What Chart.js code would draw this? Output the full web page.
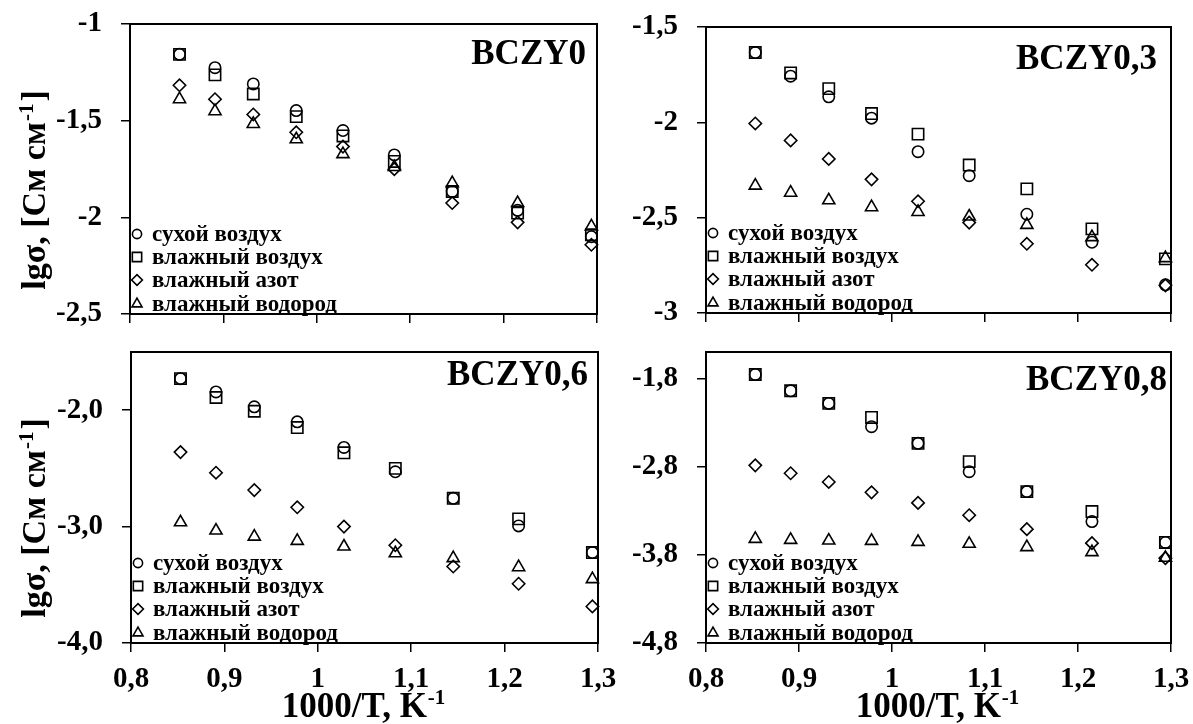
<!DOCTYPE html>
<html>
<head>
<meta charset="utf-8">
<script src="https://cdn.jsdelivr.net/npm/chart.js@4.4.1/dist/chart.umd.min.js"></script>
<style>
  html, body { margin: 0; padding: 0; background: #fff; }
  body { width: 1193px; height: 724px; position: relative; overflow: hidden; }
  canvas { position: absolute; }
</style>
</head>
<body>
<canvas id="p2" width="593" height="340" style="left:600px;top:0;width:593px;height:340px"></canvas>
<canvas id="p4" width="593" height="384" style="left:600px;top:340px;width:593px;height:384px"></canvas>
<canvas id="p1" width="620" height="340" style="left:0;top:0;width:620px;height:340px"></canvas>
<canvas id="p3" width="620" height="384" style="left:0;top:340px;width:620px;height:384px"></canvas>
<script>
// --- Data ---
const invT = [0.853, 0.891, 0.932, 0.978, 1.028, 1.083, 1.145, 1.215, 1.294];
const seriesNames = ['сухой воздух', 'влажный воздух', 'влажный азот', 'влажный водород'];
const panelNames = ['BCZY0', 'BCZY0,3', 'BCZY0,6', 'BCZY0,8'];

const xTicks = [0.8, 0.9, 1.0, 1.1, 1.2, 1.3];
const xTickLabels = ['0,8', '0,9', '1', '1,1', '1,2', '1,3'];

// BCZY0
const bczy0Dry   = [-1.157, -1.226, -1.31, -1.448, -1.551, -1.677, -1.866, -1.964, -2.10];
const bczy0WetAir= [-1.157, -1.263, -1.362, -1.479, -1.579, -1.711, -1.866, -1.978, -2.09];
const bczy0WetN2 = [-1.317, -1.389, -1.468, -1.56, -1.634, -1.751, -1.926, -2.026, -2.142];
const bczy0WetH2 = [-1.389, -1.451, -1.517, -1.596, -1.673, -1.74, -1.823, -1.926, -2.047];
const bczy0YTicks = [-1, -1.5, -2, -2.5];
const bczy0YLabels = ['-1', '-1,5', '-2', '-2,5'];

// BCZY0,3
const bczy03Dry   = [-1.634, -1.758, -1.866, -1.978, -2.154, -2.28, -2.482, -2.629, -2.852];
const bczy03WetAir= [-1.634, -1.741, -1.823, -1.954, -2.062, -2.224, -2.349, -2.559, -2.716];
const bczy03WetN2 = [-2.006, -2.095, -2.192, -2.299, -2.414, -2.526, -2.637, -2.747, -2.855];
const bczy03WetH2 = [-2.332, -2.369, -2.409, -2.445, -2.47, -2.494, -2.538, -2.602, -2.712];
const bczy03YTicks = [-1.5, -2, -2.5, -3];
const bczy03YLabels = ['-1,5', '-2', '-2,5', '-3'];

// BCZY0,6
const bczy06Dry   = [-1.729, -1.843, -1.971, -2.10, -2.32, -2.529, -2.757, -2.994, -3.223];
const bczy06WetAir= [-1.729, -1.891, -2.009, -2.149, -2.366, -2.50, -2.757, -2.934, -3.223];
const bczy06WetN2 = [-2.36, -2.537, -2.686, -2.834, -3.0, -3.16, -3.343, -3.491, -3.686];
const bczy06WetH2 = [-2.963, -3.034, -3.086, -3.123, -3.171, -3.229, -3.271, -3.349, -3.451];
const bczy06YTicks = [-2, -3, -4];
const bczy06YLabels = ['-2,0', '-3,0', '-4,0'];

// BCZY0,8
const bczy08Dry   = [-1.755, -1.94, -2.083, -2.347, -2.536, -2.857, -3.083, -3.423, -3.66];
const bczy08WetAir= [-1.755, -1.94, -2.083, -2.242, -2.536, -2.743, -3.083, -3.309, -3.66];
const bczy08WetN2 = [-2.785, -2.875, -2.974, -3.091, -3.211, -3.351, -3.509, -3.668, -3.838];
const bczy08WetH2 = [-3.619, -3.63, -3.638, -3.642, -3.653, -3.675, -3.713, -3.77, -3.834];
const bczy08YTicks = [-1.8, -2.8, -3.8, -4.8];
const bczy08YLabels = ['-1,8', '-2,8', '-3,8', '-4,8'];

// --- Styles ---
const FONT = "'Liberation Serif', 'Times New Roman', serif";
const pointStyles = ['circle', 'rect', 'rectRot', 'triangle'];
const pointSizes = [5.7, 8, 6.2, 7];
const legendSizes = [4.6, 6.6, 5.4, 5.8];

function labelFor(ticks, labels, v) {
    const i = ticks.findIndex(t => Math.abs(t - v) < 1e-9);
    return i < 0 ? '' : labels[i];
}

function drawMarker(ctx, style, r, x, y) {
    ctx.fillStyle = 'rgba(0,0,0,0)';
    if (Chart.helpers && Chart.helpers.drawPoint) {
        Chart.helpers.drawPoint(ctx, { pointStyle: style, radius: r, borderWidth: 1.6, rotation: 0 }, x, y);
    } else {
        ctx.beginPath();
        ctx.arc(x, y, r, 0, Math.PI * 2);
        ctx.stroke();
    }
    ctx.fillStyle = '#000';
}

// text with a small raised "-1"
function drawSupText(ctx, main, sup, tail, x, y, size, supSize) {
    ctx.font = `bold ${size}px ${FONT}`;
    const wMain = ctx.measureText(main).width;
    const wTail = ctx.measureText(tail).width;
    ctx.font = `bold ${supSize}px ${FONT}`;
    const wSup = ctx.measureText(sup).width;
    const x0 = x - (wMain + wSup + wTail + 3) / 2;
    ctx.textAlign = 'left';
    ctx.textBaseline = 'alphabetic';
    ctx.font = `bold ${size}px ${FONT}`;
    ctx.fillText(main, x0, y);
    ctx.font = `bold ${supSize}px ${FONT}`;
    ctx.fillText(sup, x0 + wMain + 1, y - size * 0.36);
    ctx.font = `bold ${size}px ${FONT}`;
    ctx.fillText(tail, x0 + wMain + wSup + 3, y);
}

// --- Decorations: frame, panel name, legend, axis titles ---
const panelDecor = {
    id: 'panelDecor',
    afterDraw(chart, args, opts) {
        const ctx = chart.ctx;
        const a = chart.chartArea;
        ctx.save();
        ctx.strokeStyle = '#000';
        ctx.fillStyle = '#000';
        ctx.lineWidth = 2;
        ctx.strokeRect(a.left, a.top, a.right - a.left, a.bottom - a.top);

        // panel name
        ctx.font = `bold 35px ${FONT}`;
        ctx.textAlign = 'right';
        ctx.textBaseline = 'alphabetic';
        ctx.fillText(opts.name, a.right - opts.nameRight, a.top + opts.nameTop);

        // legend
        const rows = [80, 57, 34, 10];
        seriesNames.forEach((name, i) => {
            const y = a.bottom - rows[i];
            ctx.lineWidth = 1.6;
            drawMarker(ctx, pointStyles[i], legendSizes[i], a.left + 7, y);
            ctx.font = `bold 23px ${FONT}`;
            ctx.textAlign = 'left';
            ctx.textBaseline = 'middle';
            ctx.fillText(name, a.left + 22, y + 1);
        });

        if (opts.yTitle) {
            ctx.save();
            ctx.translate(45, opts.yTitleCenter);
            ctx.rotate(-Math.PI / 2);
            drawSupText(ctx, 'lgσ, [См см', '-1', ']', 0, 0, 34, 21);
            ctx.restore();
        }
        if (opts.xTitle) {
            const cx = (a.left + a.right) / 2;
            drawSupText(ctx, '1000/T, K', '-1', '', cx, opts.xTitleBase, 35, 21);
        }
        ctx.restore();
    }
};

function fixScale(s, key, size) {
    s[key] = size;
    s.paddingTop = 0;
    s.paddingBottom = 0;
    s.paddingLeft = 0;
    s.paddingRight = 0;
}

function makePanel(id, p) {
    const datasets = p.series.map((vals, i) => ({
        label: seriesNames[i],
        data: invT.map((x, j) => ({ x: x, y: vals[j] })),
        pointStyle: pointStyles[i],
        pointRadius: pointSizes[i],
        pointBorderWidth: 1.6,
        borderColor: '#000',
        backgroundColor: 'rgba(0,0,0,0)',
        showLine: false,
        clip: false
    }));

    return new Chart(document.getElementById(id), {
        type: 'scatter',
        data: { datasets: datasets },
        options: {
            responsive: false,
            animation: false,
            events: [],
            layout: { padding: { left: 0, right: p.padRight, top: p.padTop, bottom: 0 } },
            scales: {
                x: {
                    type: 'linear',
                    min: 0.8,
                    max: 1.3,
                    afterBuildTicks: s => { s.ticks = xTicks.map(v => ({ value: v })); },
                    afterFit: s => fixScale(s, 'height', p.xHeight),
                    grid: { drawOnChartArea: false, drawTicks: true, tickLength: 9, color: '#000', lineWidth: 1.5 },
                    border: { display: true, color: '#000', width: 2 },
                    ticks: {
                        display: p.xLabels,
                        padding: 10,
                        color: '#000',
                        maxRotation: 0,
                        autoSkip: false,
                        font: { family: FONT, size: 29, weight: 'bold' },
                        callback: v => labelFor(xTicks, xTickLabels, v)
                    }
                },
                y: {
                    type: 'linear',
                    min: p.yMin,
                    max: p.yMax,
                    afterBuildTicks: s => { s.ticks = p.yTicks.map(v => ({ value: v })); },
                    afterFit: s => fixScale(s, 'width', p.yWidth),
                    grid: { drawOnChartArea: false, drawTicks: true, tickLength: 9, color: '#000', lineWidth: 1.5 },
                    border: { display: true, color: '#000', width: 2 },
                    ticks: {
                        padding: 19,
                        color: '#000',
                        autoSkip: false,
                        font: { family: FONT, size: 29, weight: 'bold' },
                        callback: v => labelFor(p.yTicks, p.yLabels, v)
                    }
                }
            },
            plugins: {
                legend: { display: false },
                tooltip: { enabled: false },
                panelDecor: {
                    name: p.name,
                    nameTop: p.nameTop,
                    nameRight: p.nameRight,
                    yTitle: p.yTitle,
                    yTitleCenter: p.yTitleCenter,
                    xTitle: p.xLabels,
                    xTitleBase: 377
                }
            }
        },
        plugins: [panelDecor]
    });
}

makePanel('p1', {
    name: panelNames[0], series: [bczy0Dry, bczy0WetAir, bczy0WetN2, bczy0WetH2],
    yMin: -2.5, yMax: -1, yTicks: bczy0YTicks, yLabels: bczy0YLabels,
    yWidth: 130, padRight: 23, padTop: 24, xHeight: 26, xLabels: false,
    nameTop: 40, nameRight: 11, yTitle: true, yTitleCenter: 190
});
makePanel('p2', {
    name: panelNames[1], series: [bczy03Dry, bczy03WetAir, bczy03WetN2, bczy03WetH2],
    yMin: -3, yMax: -1.5, yTicks: bczy03YTicks, yLabels: bczy03YLabels,
    yWidth: 106, padRight: 22, padTop: 27, xHeight: 27, xLabels: false,
    nameTop: 42, nameRight: 14, yTitle: false
});
makePanel('p3', {
    name: panelNames[2], series: [bczy06Dry, bczy06WetAir, bczy06WetN2, bczy06WetH2],
    yMin: -4, yMax: -1.5, yTicks: bczy06YTicks, yLabels: bczy06YLabels,
    yWidth: 131, padRight: 22, padTop: 12, xHeight: 81, xLabels: true,
    nameTop: 33, nameRight: 10, yTitle: true, yTitleCenter: 178
});
makePanel('p4', {
    name: panelNames[3], series: [bczy08Dry, bczy08WetAir, bczy08WetN2, bczy08WetH2],
    yMin: -4.8, yMax: -1.5, yTicks: bczy08YTicks, yLabels: bczy08YLabels,
    yWidth: 106, padRight: 22, padTop: 12, xHeight: 81, xLabels: true,
    nameTop: 38, nameRight: 4, yTitle: false
});
</script>
</body>
</html>
